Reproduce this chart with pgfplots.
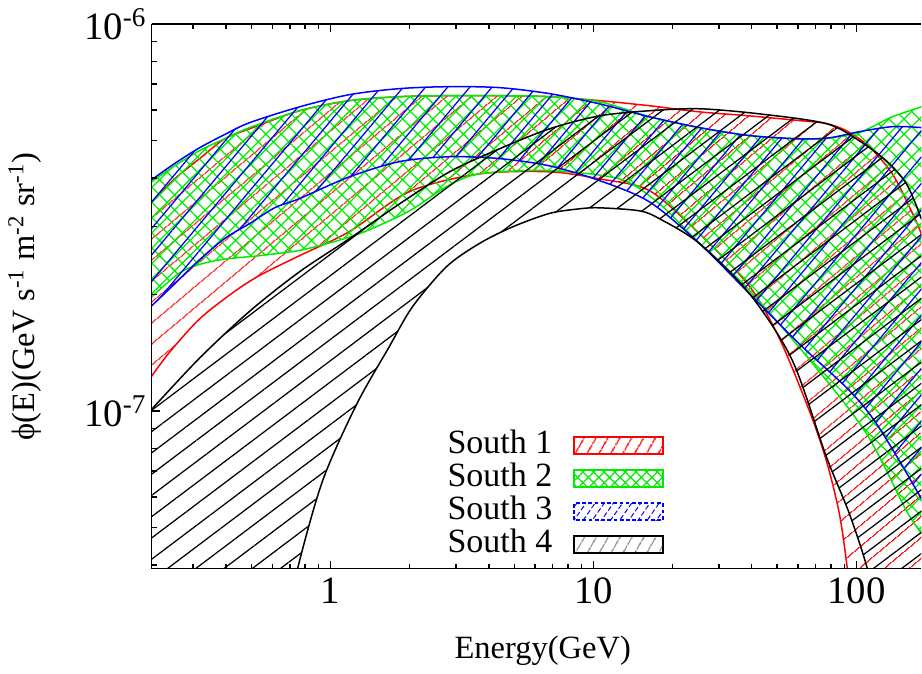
\documentclass[border=0pt]{standalone}
\usepackage{fontspec}
\setmainfont{Liberation Serif}
\usepackage{pgfplots}
\pgfplotsset{compat=1.18}
\usetikzlibrary{patterns.meta}
\definecolor{sred}{RGB}{255,0,0}
\definecolor{sgreen}{RGB}{0,235,0}
\definecolor{sblue}{RGB}{0,0,255}
\begin{document}
\begin{tikzpicture}
\begin{axis}[
  name=ax,
  scale only axis,
  width=308pt, height=218pt,
  xmode=log, ymode=log,
  xmin=0.2087, xmax=176.6,
  ymin=3.91e-8, ymax=1e-6,
  axis x line=box, axis y line=left,
  axis line style={-, line width=0.6pt},
  axis on top,
  tick align=inside,
  major tick length=3.3pt, minor tick length=2pt,
  every tick/.style={black, line width=0.6pt},
  xtick={1,10,100}, xticklabels={1,10,100},
  minor xtick={0.3,0.4,0.5,0.6,0.7,0.8,0.9,2,3,4,5,6,7,8,9,20,30,40,50,60,70,80,90},
  ytick={1e-7,1e-6}, yticklabels={10\textsuperscript{-7},10\textsuperscript{-6}},
  minor ytick={4e-8,5e-8,6e-8,7e-8,8e-8,9e-8,2e-7,3e-7,4e-7,5e-7,6e-7,7e-7,8e-7,9e-7},
  ticklabel style={font=\fontsize{15.5}{17}\selectfont},
  yticklabel style={xshift=1.5pt},
  ylabel={ϕ(E)(GeV s\textsuperscript{-1} m\textsuperscript{-2} sr\textsuperscript{-1})},
  label style={font=\fontsize{13}{15}\selectfont},
  ylabel style={at={(axis description cs:-0.165,0.5)}, anchor=center},
  legend cell align=right,
  legend plot pos=right,
  legend style={at={(axis description cs:0.666,0.013)}, anchor=south east, draw=none, fill=none, inner sep=0pt, column sep=8.4pt, font=\fontsize{13.6}{15}\selectfont, nodes={inner sep=0pt, text height=9.6pt, text depth=3.6pt}},
]
% South 1
\addplot[draw=sred, line width=0.6pt, smooth, tension=0.5,
  pattern={Lines[angle=40,distance=6.5pt,line width=0.5pt]}, pattern color=sred,
  legend image code/.code={\draw[sred, line width=0.6pt, pattern={Lines[angle=60,distance=4pt,line width=0.6pt]}, pattern color=sred] (0pt,-3.4pt) rectangle (35.6pt,3.4pt);}]
coordinates {
(0.2087,3.47e-7) (0.2551,3.98e-7) (0.3176,4.49e-7) (0.3953,5.05e-7) (0.4920,5.36e-7) (0.7623,5.97e-7) (1.181,6.34e-7) (1.830,6.49e-7) (2.835,6.53e-7) (4.391,6.53e-7) (6.803,6.49e-7) (10.54,6.34e-7) (16.33,6.15e-7) (25.29,5.93e-7) (39.20,5.79e-7) (60.72,5.63e-7) (76.89,5.53e-7) (91.6,5.30e-7) (112.0,4.82e-7) (137.1,4.10e-7) (159.0,3.37e-7) (176.6,2.87e-7) (200,2.13e-7)
(220,2e-8)
(98.26,2.66e-8) (92.42,3.91e-8) (86.16,5.43e-8) (76.89,7.44e-8) (66.27,1.00e-7) (50.96,1.54e-7) (39.20,2.10e-7) (25.29,2.87e-7) (16.33,3.71e-7) (10.54,3.98e-7) (6.803,4.15e-7) (3.685,4.10e-7) (1.997,3.69e-7) (1.181,2.91e-7) (0.7623,2.52e-7) (0.5370,2.24e-7) (0.4240,2.02e-7) (0.3176,1.73e-7) (0.2443,1.42e-7) (0.2087,1.23e-7)
};
\addlegendentry{South 1}
% South 2
\addplot[draw=sgreen, line width=0.6pt, smooth, tension=0.5,
  pattern={Hatch[angle=45,distance=4.3pt,line width=0.5pt]}, pattern color=sgreen,
  legend image code/.code={\draw[sgreen, line width=0.6pt, pattern={Hatch[angle=45,distance=3pt,line width=0.5pt]}, pattern color=sgreen] (0pt,-3.4pt) rectangle (35.6pt,3.4pt);}]
coordinates {
(0.2087,3.91e-7) (0.2551,4.30e-7) (0.3176,4.71e-7) (0.3953,5.05e-7) (0.4920,5.40e-7) (0.7623,5.97e-7) (1.181,6.34e-7) (1.830,6.49e-7) (2.835,6.53e-7) (4.391,6.53e-7) (6.803,6.49e-7) (10.54,6.30e-7) (16.33,5.76e-7) (25.29,5.40e-7) (39.20,5.15e-7) (60.72,5.05e-7) (78.93,5.08e-7) (100,5.21e-7) (117.1,5.46e-7) (137.1,5.76e-7) (176.6,6.11e-7) (200,6.30e-7)
(200,4.15e-8) (176.6,4.82e-8) (154.9,5.53e-8) (109.2,8.74e-8) (69.23,1.31e-7) (39.20,2.05e-7) (25.29,2.71e-7) (17.82,3.43e-7) (12.56,3.98e-7) (6.627,4.18e-7) (3.685,4.10e-7) (2.761,3.80e-7) (1.997,3.29e-7) (1.370,2.92e-7) (1.054,2.75e-7) (0.7623,2.60e-7) (0.5370,2.52e-7) (0.3685,2.45e-7) (0.2737,2.30e-7) (0.2087,1.97e-7)
};
\addlegendentry{South 2}
% South 3
\addplot[draw=sblue, line width=0.6pt, smooth, tension=0.5,
  pattern={Lines[angle=50,distance=6.8pt,line width=0.5pt]}, pattern color=sblue,
  legend image code/.code={\draw[sblue, line width=0.6pt, dash pattern=on 1.5pt off 1pt, pattern={Lines[angle=55,distance=3pt,line width=0.4pt]}, pattern color=sblue] (0pt,-3.4pt) rectangle (35.6pt,3.4pt);}]
coordinates {
(0.2087,3.96e-7) (0.2551,4.36e-7) (0.3176,4.79e-7) (0.3953,5.18e-7) (0.4920,5.56e-7) (0.7623,6.11e-7) (1.181,6.57e-7) (1.830,6.81e-7) (2.835,6.89e-7) (4.391,6.85e-7) (6.803,6.61e-7) (10.54,6.22e-7) (16.33,5.76e-7) (25.29,5.40e-7) (39.20,5.15e-7) (60.72,5.05e-7) (78.93,5.08e-7) (102.7,5.27e-7) (137.1,5.43e-7) (176.6,5.40e-7) (200,5.33e-7)
(200,5.18e-8) (176.6,5.94e-8) (145.7,7.44e-8) (117.1,9.44e-8) (94.06,1.13e-7) (60.72,1.49e-7) (39.20,2.01e-7) (25.29,2.71e-7) (16.33,3.47e-7) (10.54,3.94e-7) (6.803,4.30e-7) (4.391,4.49e-7) (2.835,4.54e-7) (1.830,4.41e-7) (1.181,4.03e-7) (0.7623,3.54e-7) (0.6124,3.35e-7) (0.4920,3.05e-7) (0.3953,2.79e-7) (0.3176,2.46e-7) (0.2551,2.13e-7) (0.2087,1.87e-7)
};
\addlegendentry{South 3}
% South 4
\addplot[draw=black, line width=0.6pt, smooth, tension=0.5,
  pattern={Lines[angle=37,distance=6.8pt,line width=0.5pt]}, pattern color=black,
  legend image code/.code={\draw[black, line width=0.6pt, pattern={Lines[angle=60,distance=4pt,line width=0.5pt]}, pattern color=gray] (0pt,-3.4pt) rectangle (35.6pt,3.4pt);}]
coordinates {
(0.2087,1.01e-7) (0.3176,1.37e-7) (0.4920,1.81e-7) (0.7623,2.29e-7) (1.181,2.79e-7) (1.830,3.43e-7) (2.835,4.15e-7) (4.391,4.76e-7) (6.803,5.36e-7) (10.54,5.79e-7) (16.33,5.97e-7) (25.29,6.04e-7) (42.78,5.86e-7) (76.89,5.53e-7) (102.7,4.99e-7) (130.1,4.43e-7) (154.9,3.87e-7) (176.6,3.14e-7) (200,2.40e-7)
(220,2e-8)
(117.1,3.08e-8) (110.1,3.91e-8) (94.06,5.43e-8) (76.89,7.62e-8) (57.10,1.35e-7) (39.20,2.01e-7) (25.29,2.71e-7) (17.82,3.14e-7) (14.96,3.29e-7) (10.54,3.35e-7) (8.845,3.33e-7) (6.803,3.24e-7) (4.920,2.99e-7) (3.685,2.71e-7) (2.761,2.36e-7) (2.050,1.86e-7) (1.676,1.47e-7) (1.256,1.04e-7) (0.9324,6.60e-8) (0.7489,3.91e-8) (0.6984,2.99e-8)
(0.2087,2e-8)
};
\addlegendentry{South 4}
\end{axis}
\node[font=\fontsize{13}{15}\selectfont, anchor=center] at ([xshift=2.5pt,yshift=-32.7pt]ax.south) {Energy(GeV)};
\end{tikzpicture}
\end{document}
